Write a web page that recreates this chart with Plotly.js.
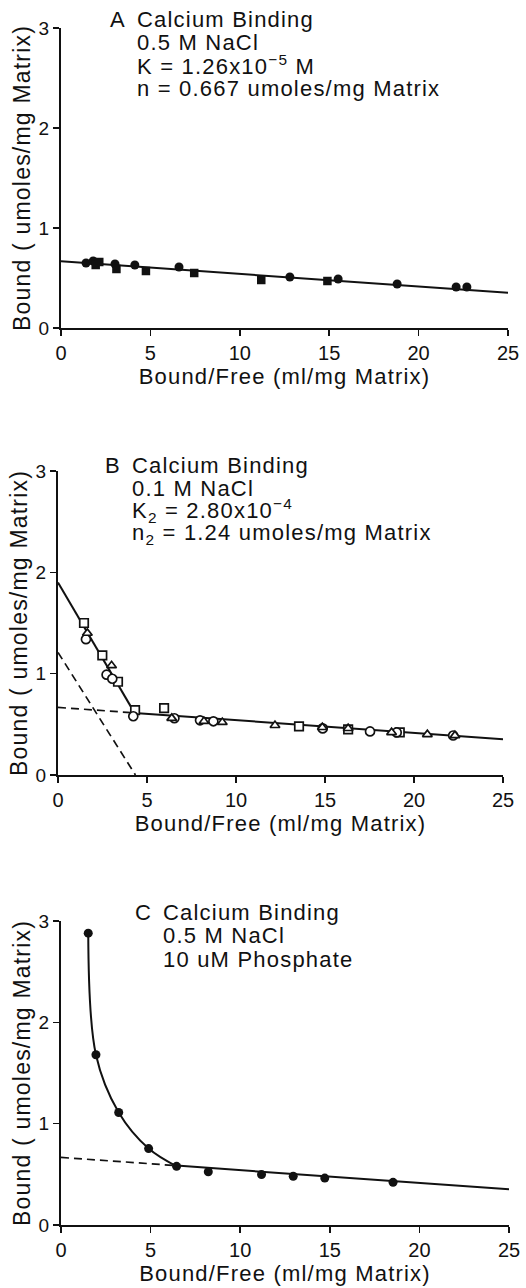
<!DOCTYPE html>
<html>
<head>
<meta charset="utf-8">
<script src="https://cdn.plot.ly/plotly-3.0.1.min.js"></script>
<style>
html,body{margin:0;padding:0;background:#fff;}
#chart{width:526px;height:1288px;}
svg text.annotation-text{letter-spacing:1.2px;}
svg text.xtitle, svg text.x2title, svg text.x3title,
svg text.ytitle, svg text.y2title, svg text.y3title{letter-spacing:1.2px;}
</style>
</head>
<body>
<div id="chart"></div>
<script>
// ---------- Panel A data (0.5 M NaCl) ----------
const A_circleX = [1.40, 1.80, 3.02, 4.13, 6.60, 12.8, 15.5, 18.8, 22.1, 22.7];
const A_circleY = [0.65, 0.67, 0.64, 0.63, 0.61, 0.51, 0.49, 0.44, 0.41, 0.41];
const A_squareX = [1.94, 2.14, 3.10, 4.75, 7.45, 11.2, 14.9];
const A_squareY = [0.63, 0.66, 0.59, 0.57, 0.55, 0.48, 0.47];
const A_fitX = [0, 25];
const A_fitY = [0.667, 0.352];

// ---------- Panel B data (0.1 M NaCl) ----------
const B_squareX = [1.46, 2.49, 3.37, 4.33, 5.96, 13.54, 16.3, 19.2];
const B_squareY = [1.50, 1.18, 0.92, 0.64, 0.66, 0.48, 0.45, 0.42];
const B_circleX = [1.57, 2.73, 3.05, 4.23, 6.54, 7.98, 8.73, 14.87, 17.53, 19.03, 22.2];
const B_circleY = [1.34, 0.99, 0.95, 0.58, 0.56, 0.54, 0.53, 0.46, 0.43, 0.42, 0.39];
const B_triX = [1.65, 3.01, 6.39, 8.20, 9.23, 12.19, 14.85, 16.3, 18.74, 20.75, 22.3];
const B_triY = [1.40, 1.08, 0.56, 0.53, 0.52, 0.49, 0.47, 0.46, 0.42, 0.40, 0.39];
const B_steepX = [0, 4.3];
const B_steepY = [1.90, 0.613];
const B_shallowX = [4.3, 25];
const B_shallowY = [0.613, 0.352];
const B_dashShallowX = [0, 4.3];
const B_dashShallowY = [0.667, 0.613];
const B_dashSteepX = [0, 4.35];
const B_dashSteepY = [1.21, 0];

// ---------- Panel C data (0.5 M NaCl, 10 uM phosphate) ----------
const C_x = [1.52, 1.95, 3.22, 4.89, 6.45, 8.22, 11.19, 12.96, 14.72, 18.53];
const C_y = [2.88, 1.68, 1.11, 0.754, 0.579, 0.526, 0.498, 0.481, 0.463, 0.421];
const C_curveCount = 5; // first five points lie on the curved part
const C_lineX = [6.45, 25];
const C_lineY = [0.586, 0.352];
const C_dashX = [0, 6.45];
const C_dashY = [0.667, 0.586];

// ---------- Text ----------
const panelLetters = ["A", "B", "C"];
const panelLines = [
  ["Calcium Binding", "0.5 M NaCl", "K = 1.26x10<sup>−5</sup> M", "n = 0.667 umoles/mg Matrix"],
  ["Calcium Binding", "0.1 M NaCl", "K<sub>2</sub> = 2.80x10<sup>−4</sup>", "n<sub>2</sub> = 1.24 umoles/mg Matrix"],
  ["Calcium Binding", "0.5 M NaCl", "10 uM Phosphate"]
];
const xTitle = "Bound/Free (ml/mg Matrix)";
const yTitle = "Bound ( umoles/mg Matrix)";
const xTicks = [0, 5, 10, 15, 20, 25];
const yTicks = [0, 1, 2, 3];

// ---------- Layout geometry (pixels) ----------
const W = 526, H = 1288;
const FONT = "Liberation Sans, Arial, Helvetica, sans-serif";
const geom = [
  {left: 61, right: 508, top: 28, bottom: 328, letterX: 110, textX: 137, base: [27, 50, 73, 96]},
  {left: 58, right: 503, top: 471, bottom: 775, letterX: 105, textX: 132, base: [473, 496, 518, 542]},
  {left: 61, right: 509, top: 921, bottom: 1225, letterX: 135, textX: 163, base: [920, 943, 967]}
];
const px = x => x / W;
const py = y => 1 - y / H;

const black = "#111";
const traces = [];
function add(t, i) {
  const s = i === 0 ? "" : String(i + 1);
  t.xaxis = "x" + s; t.yaxis = "y" + s; t.cliponaxis = false; t.showlegend = false;
  traces.push(t);
}
const solid = {color: black, width: 2};
const dashed = {color: black, width: 1.7, dash: "8px,5px"};

// Panel A
add({x: A_fitX, y: A_fitY, mode: "lines", line: solid}, 0);
add({x: A_circleX, y: A_circleY, mode: "markers", marker: {symbol: "circle", size: 9, color: black}}, 0);
add({x: A_squareX, y: A_squareY, mode: "markers", marker: {symbol: "square", size: 8.5, color: black}}, 0);

// Panel B
add({x: B_dashShallowX, y: B_dashShallowY, mode: "lines", line: dashed}, 1);
add({x: B_dashSteepX, y: B_dashSteepY, mode: "lines", line: dashed}, 1);
add({x: B_steepX, y: B_steepY, mode: "lines", line: solid}, 1);
add({x: B_shallowX, y: B_shallowY, mode: "lines", line: solid}, 1);
const openM = (sym, sz) => ({symbol: sym, size: sz, color: "#fff", line: {color: black, width: 1.7}});
add({x: B_squareX, y: B_squareY, mode: "markers", marker: openM("square", 8.5)}, 1);
add({x: B_circleX, y: B_circleY, mode: "markers", marker: openM("circle", 9)}, 1);
add({x: B_triX, y: B_triY, mode: "markers", marker: openM("triangle-up", 8.5)}, 1);

// Panel C
add({x: C_dashX, y: C_dashY, mode: "lines", line: dashed}, 2);
add({x: C_x.slice(0, C_curveCount), y: C_y.slice(0, C_curveCount), mode: "lines",
     line: {color: black, width: 2, shape: "spline", smoothing: 1}}, 2);
add({x: C_lineX, y: C_lineY, mode: "lines", line: solid}, 2);
add({x: C_x, y: C_y, mode: "markers", marker: {symbol: "circle", size: 9, color: black}}, 2);

const layout = {
  width: W, height: H,
  margin: {l: 0, r: 0, t: 0, b: 0},
  paper_bgcolor: "#fff", plot_bgcolor: "rgba(0,0,0,0)",
  showlegend: false,
  font: {family: FONT, color: black},
  annotations: []
};

geom.forEach((g, i) => {
  const s = i === 0 ? "" : String(i + 1);
  layout["xaxis" + s] = {
    domain: [px(g.left), px(g.right)], anchor: "y" + s,
    range: [0, 25], tickvals: xTicks, ticktext: xTicks.map(String),
    showline: true, linecolor: black, linewidth: 2.2, mirror: false,
    ticks: "outside", ticklen: 6, tickwidth: 1.6, tickcolor: black,
    showgrid: false, zeroline: false, fixedrange: true,
    tickfont: {family: FONT, size: 20, color: black},
    title: {text: xTitle, font: {family: FONT, size: 22, color: black}, standoff: 2}
  };
  layout["yaxis" + s] = {
    domain: [py(g.bottom), py(g.top)], anchor: "x" + s,
    range: [0, 3], tickvals: yTicks, ticktext: yTicks.map(String),
    showline: true, linecolor: black, linewidth: 2.2,
    ticks: "outside", ticklen: 6, tickwidth: 1.6, tickcolor: black,
    showgrid: false, zeroline: false, fixedrange: true,
    tickfont: {family: FONT, size: 19, color: black},
    title: {text: yTitle, font: {family: FONT, size: 23, color: black}, standoff: 1}
  };
  const fs = 22;
  const mid = b => py(b - 0.3465 * fs);
  const common = {xref: "paper", yref: "paper", xanchor: "left", yanchor: "middle",
                  align: "left", showarrow: false, borderpad: 0, borderwidth: 0,
                  font: {family: FONT, size: fs, color: black}};
  layout.annotations.push(Object.assign({}, common, {
    x: px(g.letterX), y: mid(g.base[0]), text: panelLetters[i]
  }));
  panelLines[i].forEach((t, k) => {
    layout.annotations.push(Object.assign({}, common, {
      x: px(g.textX), y: mid(g.base[k]), text: t
    }));
  });
});

Plotly.newPlot("chart", traces, layout, {staticPlot: true, displayModeBar: false});
</script>
</body>
</html>
